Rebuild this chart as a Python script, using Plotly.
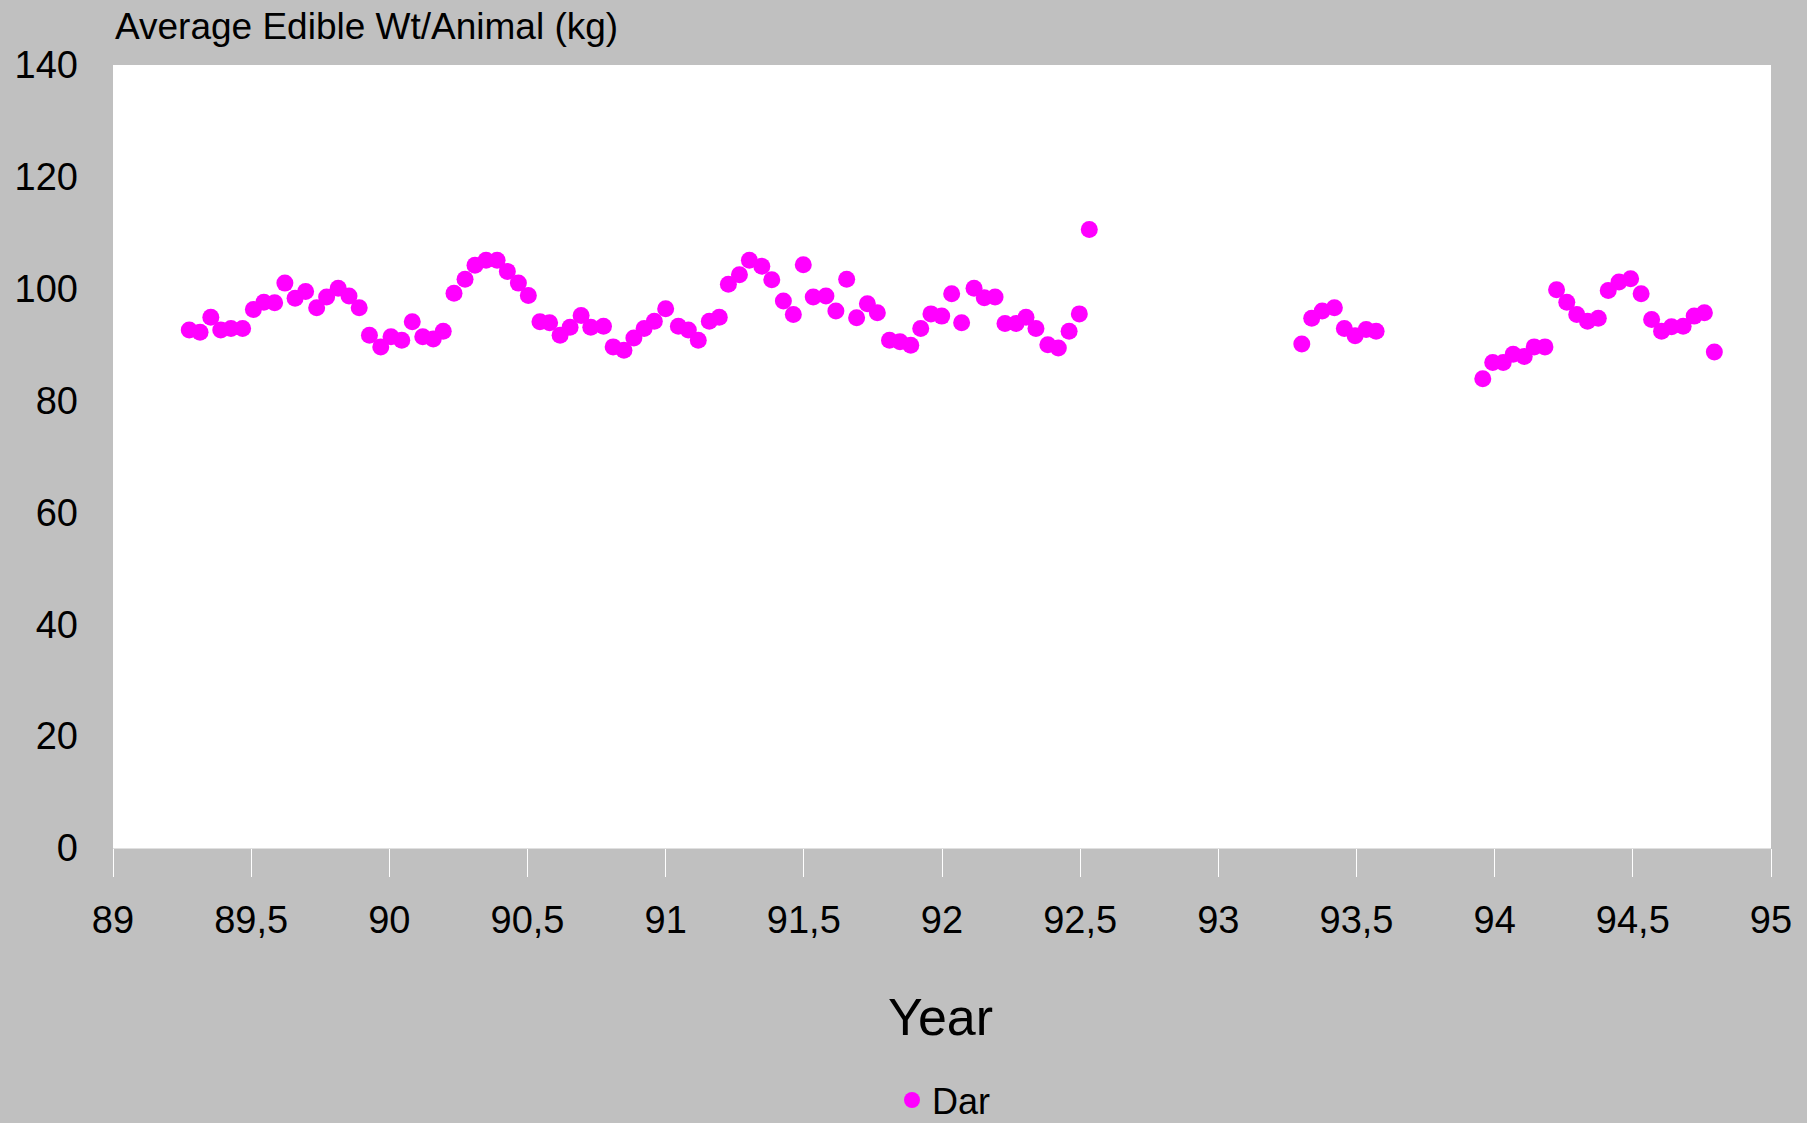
import plotly.graph_objects as go

# Year (decimal) and average edible weight per animal (kg), series "Dar"
year = [
    89.276, 89.315, 89.354, 89.390, 89.427, 89.469, 89.508, 89.546, 89.585, 89.622,
    89.659, 89.697, 89.737, 89.773, 89.815, 89.854, 89.891, 89.928, 89.969, 90.006,
    90.045, 90.083, 90.121, 90.159, 90.195, 90.234, 90.274, 90.310, 90.350, 90.390,
    90.427, 90.467, 90.503, 90.545, 90.580, 90.618, 90.654, 90.694, 90.729, 90.775,
    90.810, 90.849, 90.885, 90.922, 90.959, 91.000, 91.046, 91.082, 91.118, 91.158,
    91.194, 91.227, 91.267, 91.303, 91.348, 91.384, 91.426, 91.462, 91.498, 91.534,
    91.580, 91.616, 91.655, 91.691, 91.730, 91.766, 91.810, 91.848, 91.887, 91.923,
    91.960, 91.999, 92.035, 92.071, 92.116, 92.153, 92.192, 92.228, 92.268, 92.304,
    92.340, 92.383, 92.421, 92.460, 92.497, 92.533,
    93.302, 93.338, 93.376, 93.420, 93.456, 93.495, 93.535, 93.571,
    93.957, 93.993, 94.031, 94.067, 94.107, 94.143, 94.182, 94.224, 94.261, 94.297,
    94.336, 94.375, 94.411, 94.450, 94.492, 94.530, 94.568, 94.604, 94.640, 94.682,
    94.722, 94.759, 94.795,
]
dar = [
    92.6, 92.2, 94.9, 92.6, 92.9, 92.9, 96.3, 97.6, 97.5, 101.0,
    98.3, 99.5, 96.6, 98.5, 100.1, 98.7, 96.6, 91.7, 89.6, 91.4,
    90.8, 94.1, 91.4, 91.0, 92.4, 99.2, 101.7, 104.2, 105.1, 105.1,
    103.1, 101.0, 98.8, 94.1, 93.9, 91.7, 93.1, 95.2, 93.1, 93.3,
    89.6, 89.0, 91.2, 92.9, 94.2, 96.4, 93.3, 92.6, 90.8, 94.2,
    94.9, 100.8, 102.5, 105.1, 104.0, 101.6, 97.8, 95.4, 104.3, 98.5,
    98.7, 96.0, 101.7, 94.8, 97.3, 95.7, 90.8, 90.5, 89.9, 92.9,
    95.5, 95.1, 99.1, 93.9, 100.1, 98.4, 98.5, 93.8, 93.8, 94.9,
    92.9, 90.0, 89.4, 92.4, 95.5, 110.6,
    90.1, 94.7, 96.0, 96.6, 92.9, 91.6, 92.7, 92.4,
    83.9, 86.8, 86.8, 88.3, 87.9, 89.6, 89.6, 99.8, 97.6, 95.4,
    94.2, 94.7, 99.7, 101.2, 101.8, 99.1, 94.5, 92.4, 93.2, 93.3,
    95.1, 95.7, 88.7,
]

x_tickvals = [89, 89.5, 90, 90.5, 91, 91.5, 92, 92.5, 93, 93.5, 94, 94.5, 95]
x_ticktext = ["89", "89,5", "90", "90,5", "91", "91,5", "92", "92,5", "93", "93,5", "94", "94,5", "95"]
y_tickvals = [0, 20, 40, 60, 80, 100, 120, 140]

series_name = "Dar"
y_title = "Average Edible Wt/Animal (kg)"
x_title = "Year"

FAMILY = "Liberation Sans, Arial, sans-serif"
TICK_FONT = dict(family=FAMILY, size=38, color="black")

fig = go.Figure()
fig.add_trace(go.Scatter(
    x=year, y=dar, mode="markers", name=series_name,
    marker=dict(color="#FF00FF", size=17, line=dict(width=0)),
))

fig.update_layout(
    width=1807, height=1123,
    paper_bgcolor="#C0C0C0", plot_bgcolor="#FFFFFF",
    margin=dict(l=113, r=36, t=65, b=275, autoexpand=False),
    showlegend=True,
    legend=dict(
        orientation="h", x=0.5012, xanchor="center", y=-0.322, yanchor="middle",
        font=dict(family=FAMILY, size=36, color="black"),
        bgcolor="rgba(0,0,0,0)", borderwidth=0,
    ),
    xaxis=dict(
        range=[89, 95], tickmode="array", tickvals=x_tickvals, ticktext=x_ticktext,
        showgrid=False, zeroline=False,
        ticks="outside", ticklen=28, tickwidth=1, tickcolor="#FFFFFF",
        showline=True, linecolor="#E0E0E0", linewidth=1,
        tickfont=TICK_FONT, ticklabelstandoff=10,
    ),
    yaxis=dict(
        range=[0, 140], tickmode="array", tickvals=y_tickvals,
        showgrid=False, zeroline=False, ticks="", showline=False,
        tickfont=TICK_FONT, ticklabelstandoff=34,
    ),
    annotations=[
        dict(text=y_title, xref="paper", yref="paper", x=0.0, y=1.0498,
             xanchor="left", yanchor="middle", showarrow=False,
             font=dict(family=FAMILY, size=37, color="black")),
        dict(text=x_title, xref="paper", yref="paper", x=0.4988, y=-0.216,
             xanchor="center", yanchor="middle", showarrow=False,
             font=dict(family=FAMILY, size=52, color="black")),
    ],
)

fig.write_html("out.html", config={"displayModeBar": False},
               post_script="document.body.style.margin='0';")
